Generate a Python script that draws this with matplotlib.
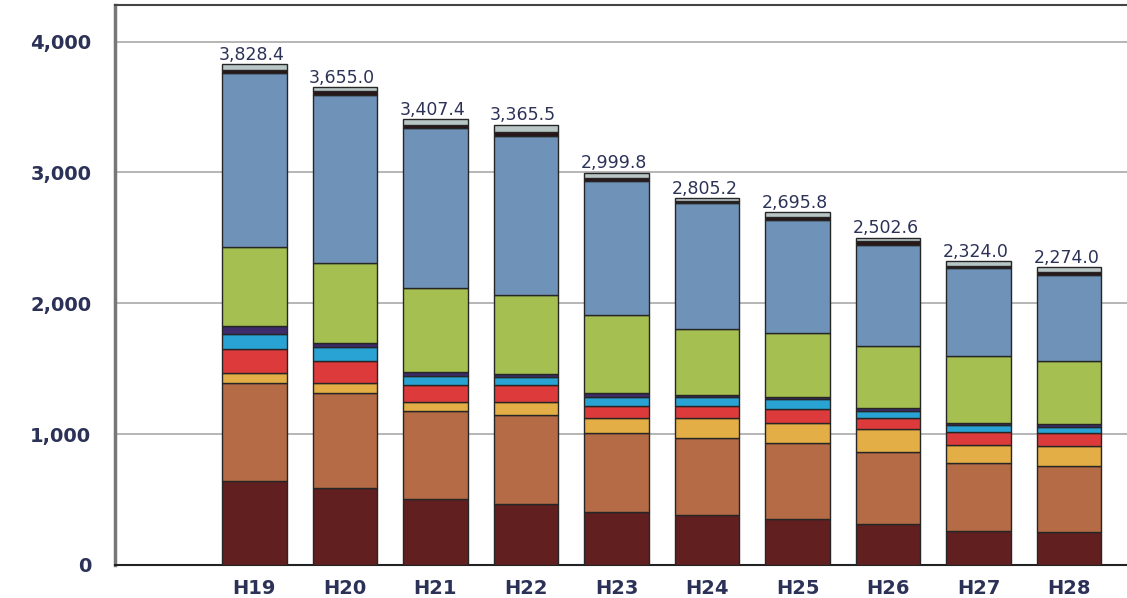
import numpy as np
import matplotlib.pyplot as plt

# 年度
years = ["H19", "H20", "H21", "H22", "H23", "H24", "H25", "H26", "H27", "H28"]

# 内訳（下から積み上げ）
seg1 = [642, 591, 502, 467, 403, 382, 349, 314, 260, 255]
seg2 = [748, 722, 676, 680, 604, 587, 587, 553, 518, 505]
seg3 = [81, 81, 71, 97, 115, 153, 152, 171, 140, 152]
seg4 = [181, 164, 123, 128, 94, 94, 105, 84, 102, 95]
seg5 = [115, 107, 74, 63, 67, 71, 77, 56, 51, 51]
seg6 = [56, 31, 32, 23, 30, 13, 17, 20, 17, 18]
seg7 = [607, 611, 638, 607, 599, 503, 485, 479, 510, 484]
seg8 = [1331, 1288, 1224, 1216, 1020, 965, 866, 770, 671, 658]
seg9 = [25, 25, 25, 28, 28, 15, 20, 26, 20, 21]
seg10 = [42.4, 35.0, 42.4, 56.5, 39.8, 22.2, 37.8, 29.6, 35.0, 35.0]

totals = [3828.4, 3655.0, 3407.4, 3365.5, 2999.8, 2805.2, 2695.8, 2502.6, 2324.0, 2274.0]

segments = [seg1, seg2, seg3, seg4, seg5, seg6, seg7, seg8, seg9, seg10]
colors = ["#621f1f", "#b56b45", "#e2ae45", "#dd3b3b", "#29a3d3",
          "#3d2b6b", "#a5bf50", "#6f93b8", "#2a1518", "#b9c6c6"]

text_color = "#2c3257"

fig = plt.figure(figsize=(11.27, 5.98), dpi=100)
ax = fig.add_axes([115 / 1127, 33 / 598, 1 - 115 / 1127, 560 / 598])

x = np.arange(len(years))
bottom = np.zeros(len(years))
for vals, c in zip(segments, colors):
    ax.bar(x, vals, width=0.71, bottom=bottom, color=c,
           edgecolor="#262626", linewidth=1.0, zorder=3)
    bottom += np.array(vals)

# 合計値ラベル
for xi, top, t in zip(x, bottom, totals):
    ax.text(xi - 0.03, top + 2, f"{t:,.1f}", ha="center", va="bottom",
            fontsize=12.5, fontweight="medium", color=text_color, zorder=4)

ax.set_xlim(-1.54, 9.64)
ax.set_ylim(0, 4280)
ax.set_yticks([0, 1000, 2000, 3000, 4000])
ax.set_yticklabels(["0", "1,000", "2,000", "3,000", "4,000"])
ax.set_xticks(x)
ax.set_xticklabels(years)

ax.grid(axis="y", color="#b0b0b0", linewidth=1.3, zorder=0)
ax.tick_params(axis="both", length=0, labelsize=14, labelcolor=text_color)
ax.tick_params(axis="y", pad=17)
ax.tick_params(axis="x", pad=10)
for lbl in ax.get_xticklabels() + ax.get_yticklabels():
    lbl.set_fontweight("bold")

ax.spines["right"].set_visible(False)
ax.spines["top"].set_color("#444444")
ax.spines["top"].set_linewidth(1.5)
ax.spines["left"].set_color("#777777")
ax.spines["left"].set_linewidth(2.5)
ax.spines["bottom"].set_color("#222222")
ax.spines["bottom"].set_linewidth(1.5)

fig.savefig("out.png", dpi=100)
